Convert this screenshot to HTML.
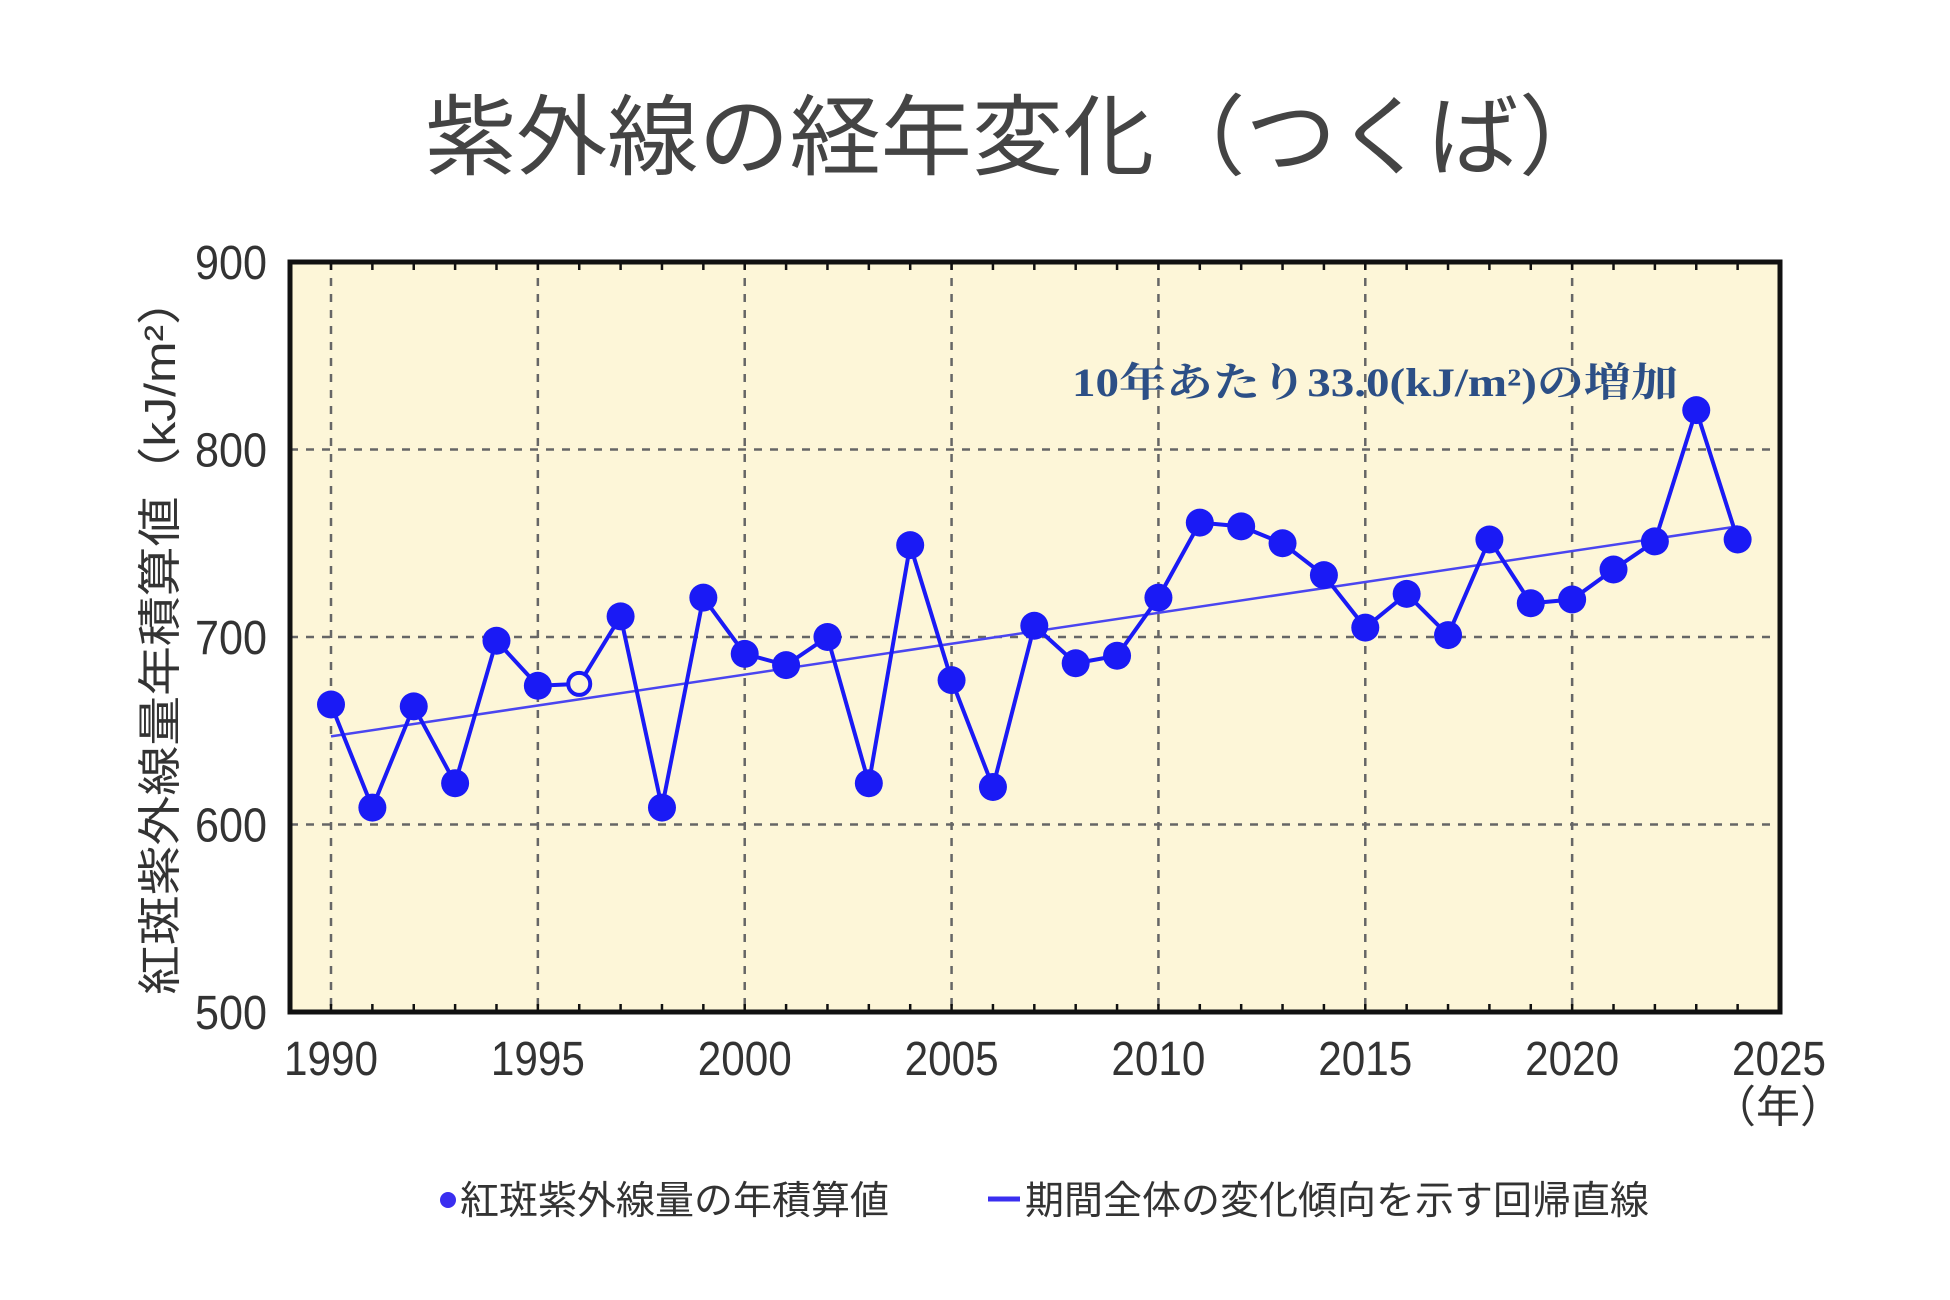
<!DOCTYPE html>
<html><head><meta charset="utf-8"><style>
html,body{margin:0;padding:0;background:#fff;}
svg{display:block;font-family:"Liberation Sans","Noto Sans CJK JP",sans-serif;}
</style></head><body>
<svg id="chart" width="1950" height="1300" viewBox="0 0 1950 1300" xmlns="http://www.w3.org/2000/svg">
<text x="425" y="168" font-size="88" fill="#444" textLength="1185" lengthAdjust="spacingAndGlyphs">紫外線の経年変化（つくば）</text>
<rect x="290" y="262" width="1490" height="750" fill="#fdf6d8"/>
<g id="grid"></g>
<g id="axes"></g>
<g id="series"></g>
<rect x="290" y="262" width="1490" height="750" fill="none" stroke="#111" stroke-width="5"/>
<text x="1072" y="396" font-size="40" fill="#2c4f86" font-family="'Liberation Serif','Noto Serif CJK SC',serif" font-weight="bold" textLength="606" lengthAdjust="spacingAndGlyphs">10年あたり33.0(kJ/m²)の増加</text>
<text transform="translate(175,635) rotate(-90)" font-size="44" fill="#333" text-anchor="middle" textLength="720" lengthAdjust="spacingAndGlyphs">紅斑紫外線量年積算値（kJ/m²）</text>
<text x="1778" y="1122" font-size="44" fill="#333" text-anchor="middle">（年）</text>
<g>
<circle cx="448" cy="1200" r="8" fill="#3a2ef0"/>
<text x="460" y="1214" font-size="39" fill="#333">紅斑紫外線量の年積算値</text>
<line x1="988" y1="1199" x2="1020" y2="1199" stroke="#3a2ef0" stroke-width="5"/>
<text x="1025" y="1214" font-size="39" fill="#333">期間全体の変化傾向を示す回帰直線</text>
</g>
</svg>
<script>
const years = [1990,1991,1992,1993,1994,1995,1996,1997,1998,1999,2000,2001,2002,2003,2004,2005,2006,2007,2008,2009,2010,2011,2012,2013,2014,2015,2016,2017,2018,2019,2020,2021,2022,2023,2024];
const uvValues = [664,609,663,622,698,674,675,711,609,721,691,685,700,622,749,677,620,706,686,690,721,761,759,750,733,705,723,701,752,718,720,736,751,821,752];
const openYears = [1996];
const trendYears = [1990,2024];
const trendValues = [647,759];
const yTicks = [500,600,700,800,900];
const xTicks = [1990,1995,2000,2005,2010,2015,2020,2025];

const NS='http://www.w3.org/2000/svg';
const L=290,R=1780,T=262,B=1012;
const X0=331,X1=1779;
function xs(y){return X0+(y-1990)*(X1-X0)/35;}
function ys(v){return B-(v-500)*(B-T)/400;}
function mk(tag,attrs,parent){const e=document.createElementNS(NS,tag);for(const k in attrs)e.setAttribute(k,attrs[k]);parent.appendChild(e);return e;}
const grid=document.getElementById('grid'),axes=document.getElementById('axes'),ser=document.getElementById('series');

yTicks.forEach(v=>{
  const y=ys(v);
  if(v>500&&v<900){
    const g=mk('line',{x1:L,x2:R,y1:y,y2:y,stroke:'#666','stroke-width':2.5,'stroke-dasharray':'8 8'},grid);
    
    
  }
  const t=mk('text',{x:267,y:y+17,'font-size':48,fill:'#333','text-anchor':'end',textLength:72,lengthAdjust:'spacingAndGlyphs'},axes);
  t.textContent=v;
  
  
});
for(let yr=1990;yr<=2025;yr++){
  const x=xs(yr);
  const tk=mk('line',{x1:x,x2:x,y1:B,y2:B-8,stroke:'#111','stroke-width':2.5},axes);
  
  
  const tk2=mk('line',{x1:x,x2:x,y1:T,y2:T+8,stroke:'#111','stroke-width':2.5},axes);
  
  
}
xTicks.forEach(yr=>{
  const x=xs(yr);
  if(yr<2025){
    const g=mk('line',{x1:x,x2:x,y1:T,y2:B,stroke:'#666','stroke-width':2.5,'stroke-dasharray':'8 8'},grid);
    
    
  }
  const t=mk('text',{x:x,y:1075,'font-size':48,fill:'#333','text-anchor':'middle',textLength:94,lengthAdjust:'spacingAndGlyphs'},axes);
  t.textContent=yr;
  
  
});
const tr=mk('line',{x1:xs(trendYears[0]),y1:ys(trendValues[0]),x2:xs(trendYears[1]),y2:ys(trendValues[1]),stroke:'#4a45f0','stroke-width':2.5},ser);


const pl=mk('polyline',{points:years.map((y,i)=>xs(y)+','+ys(uvValues[i])).join(' '),fill:'none',stroke:'#1a1af5','stroke-width':4},ser);


years.forEach((y,i)=>{
  const open=openYears.includes(y);
  const c=mk('circle',{cx:xs(y),cy:ys(uvValues[i]),r:open?11:14,fill:open?'#fdf6d8':'#1a1af5',stroke:'#1a1af5','stroke-width':open?4:0},ser);
  
  
});
</script>
</body></html>
